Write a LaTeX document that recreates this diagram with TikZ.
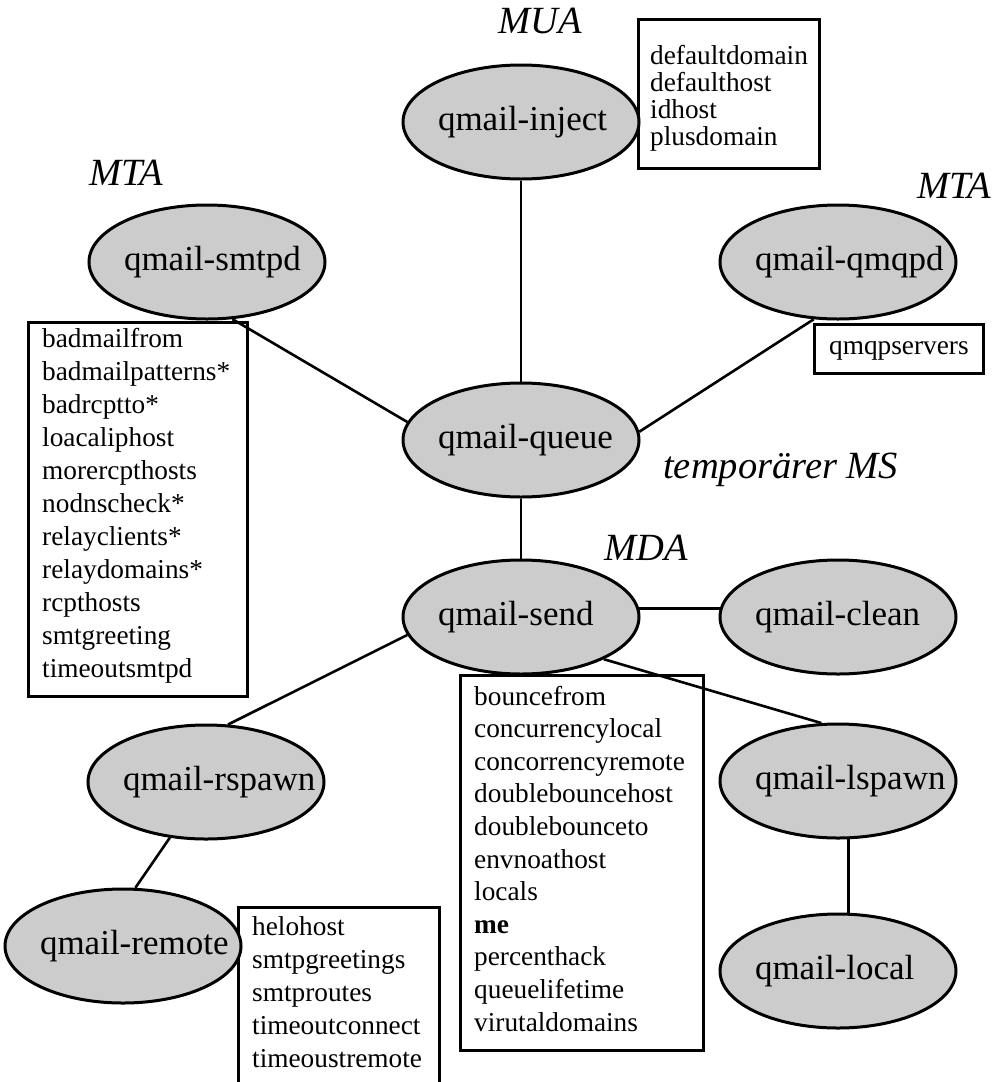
\documentclass[tikz,border=0pt]{standalone}
\usepackage{fontspec}
\setmainfont{Liberation Serif}
\usetikzlibrary{shapes.geometric}
\definecolor{procgray}{RGB}{204,204,204}
\newcommand\txtlines[2]{\vtop{\baselineskip=#1\lineskiplimit=-100pt\relax #2}}
\begin{document}
\begin{tikzpicture}[x=1pt,y=-1pt,
  proc/.style={ellipse, draw, line width=3pt, fill=procgray,
    minimum width=236pt, minimum height=114pt, inner sep=0pt,
    text width=166pt, align=left, font=\fontsize{35}{40}\selectfont},
  cfgbox/.style={draw, line width=2.8pt, inner sep=0pt, anchor=north west},
  cfgtext/.style={anchor=base west, inner sep=0pt, font=\fontsize{27.3}{32}\selectfont},
  lab/.style={anchor=base west, inner sep=0pt, font=\fontsize{38.5}{44}\selectfont\itshape},
  conn/.style={line width=2.6pt}]
\useasboundingbox[fill=white] (0,0) rectangle (1005,1082);

% configuration boxes
\node[cfgbox, minimum width=181pt, minimum height=149pt] (injcfg) at (637,18) {};
\node[cfgbox, minimum width=219pt, minimum height=374pt] (smtpdcfg) at (27,321) {};
\node[cfgbox, minimum width=243pt, minimum height=375pt] (sendcfg) at (459,674) {};
\node[cfgbox, minimum width=201pt, minimum height=190pt] (remotecfg) at (237,906) {};
\node[cfgbox, minimum width=169pt, minimum height=49pt, font=\fontsize{27.3}{32}\selectfont,
  text height=19pt, text depth=7pt] (qmqpcfg) at (813,323) {qmqpservers};

\node[cfgtext] (injtxt) at (650,64) {\txtlines{27pt}{\hbox{defaultdomain}\hbox{defaulthost}\hbox{idhost}\hbox{plusdomain}}};
\node[cfgtext] (smtpdtxt) at (42,347) {\txtlines{33pt}{\hbox{badmailfrom}\hbox{badmailpatterns*}\hbox{badrcptto*}\hbox{loacaliphost}\hbox{morercpthosts}\hbox{nodnscheck*}\hbox{relayclients*}\hbox{relaydomains*}\hbox{rcpthosts}\hbox{smtgreeting}\hbox{timeoutsmtpd}}};
\node[cfgtext] (sendtxt) at (474,705) {\txtlines{32.6pt}{\hbox{bouncefrom}\hbox{concurrencylocal}\hbox{concorrencyremote}\hbox{doublebouncehost}\hbox{doublebounceto}\hbox{envnoathost}\hbox{locals}\hbox{\bfseries me}\hbox{percenthack}\hbox{queuelifetime}\hbox{virutaldomains}}};
\node[cfgtext] (remotetxt) at (252,935) {\txtlines{33pt}{\hbox{helohost}\hbox{smtpgreetings}\hbox{smtproutes}\hbox{timeoutconnect}\hbox{timeoustremote}}};

% processes
\node[proc] (inject) at (521,122) {\mbox{qmail-inject}};
\node[proc] (smtpd) at (207,262) {\mbox{qmail-smtpd}};
\node[proc] (qmqpd) at (838,262) {\mbox{qmail-qmqpd}};
\node[proc] (queue) at (521,440) {\mbox{qmail-queue}};
\node[proc] (send) at (521,617) {\mbox{qmail-send}};
\node[proc] (clean) at (838,617) {\mbox{qmail-clean}};
\node[proc] (lspawn) at (838,781) {\mbox{qmail-lspawn}};
\node[proc] (local) at (838,971) {\mbox{qmail-local}};
\node[proc] (rspawn) at (206,782) {\mbox{qmail-rspawn}};
\node[proc] (remote) at (123,946) {\mbox{qmail-remote}};

% labels
\node[lab] (mua) at (498,33) {MUA};
\node[lab] (mtal) at (89,185) {MTA};
\node[lab] (mtar) at (917,198) {MTA};
\node[lab] (tms) at (663,478) {temporärer MS};
\node[lab] (mda) at (604,560) {MDA};

% connectors
\draw[conn] (inject.south) -- (queue.north);
\draw[conn] (smtpd.-66) -- (queue.171);
\draw[conn] (qmqpd.247) -- (queue.4);
\draw[conn] (queue.south) -- (send.north);
\draw[conn] (send.4) -- (clean.176);
\draw[conn] (send.-27) -- (lspawn.106);
\draw[conn] (send.189) -- (rspawn.69);
\draw[conn] (rspawn.237) -- (remote.78);
\draw[conn] (lspawn.-80) -- (local.80);
\end{tikzpicture}
\end{document}
